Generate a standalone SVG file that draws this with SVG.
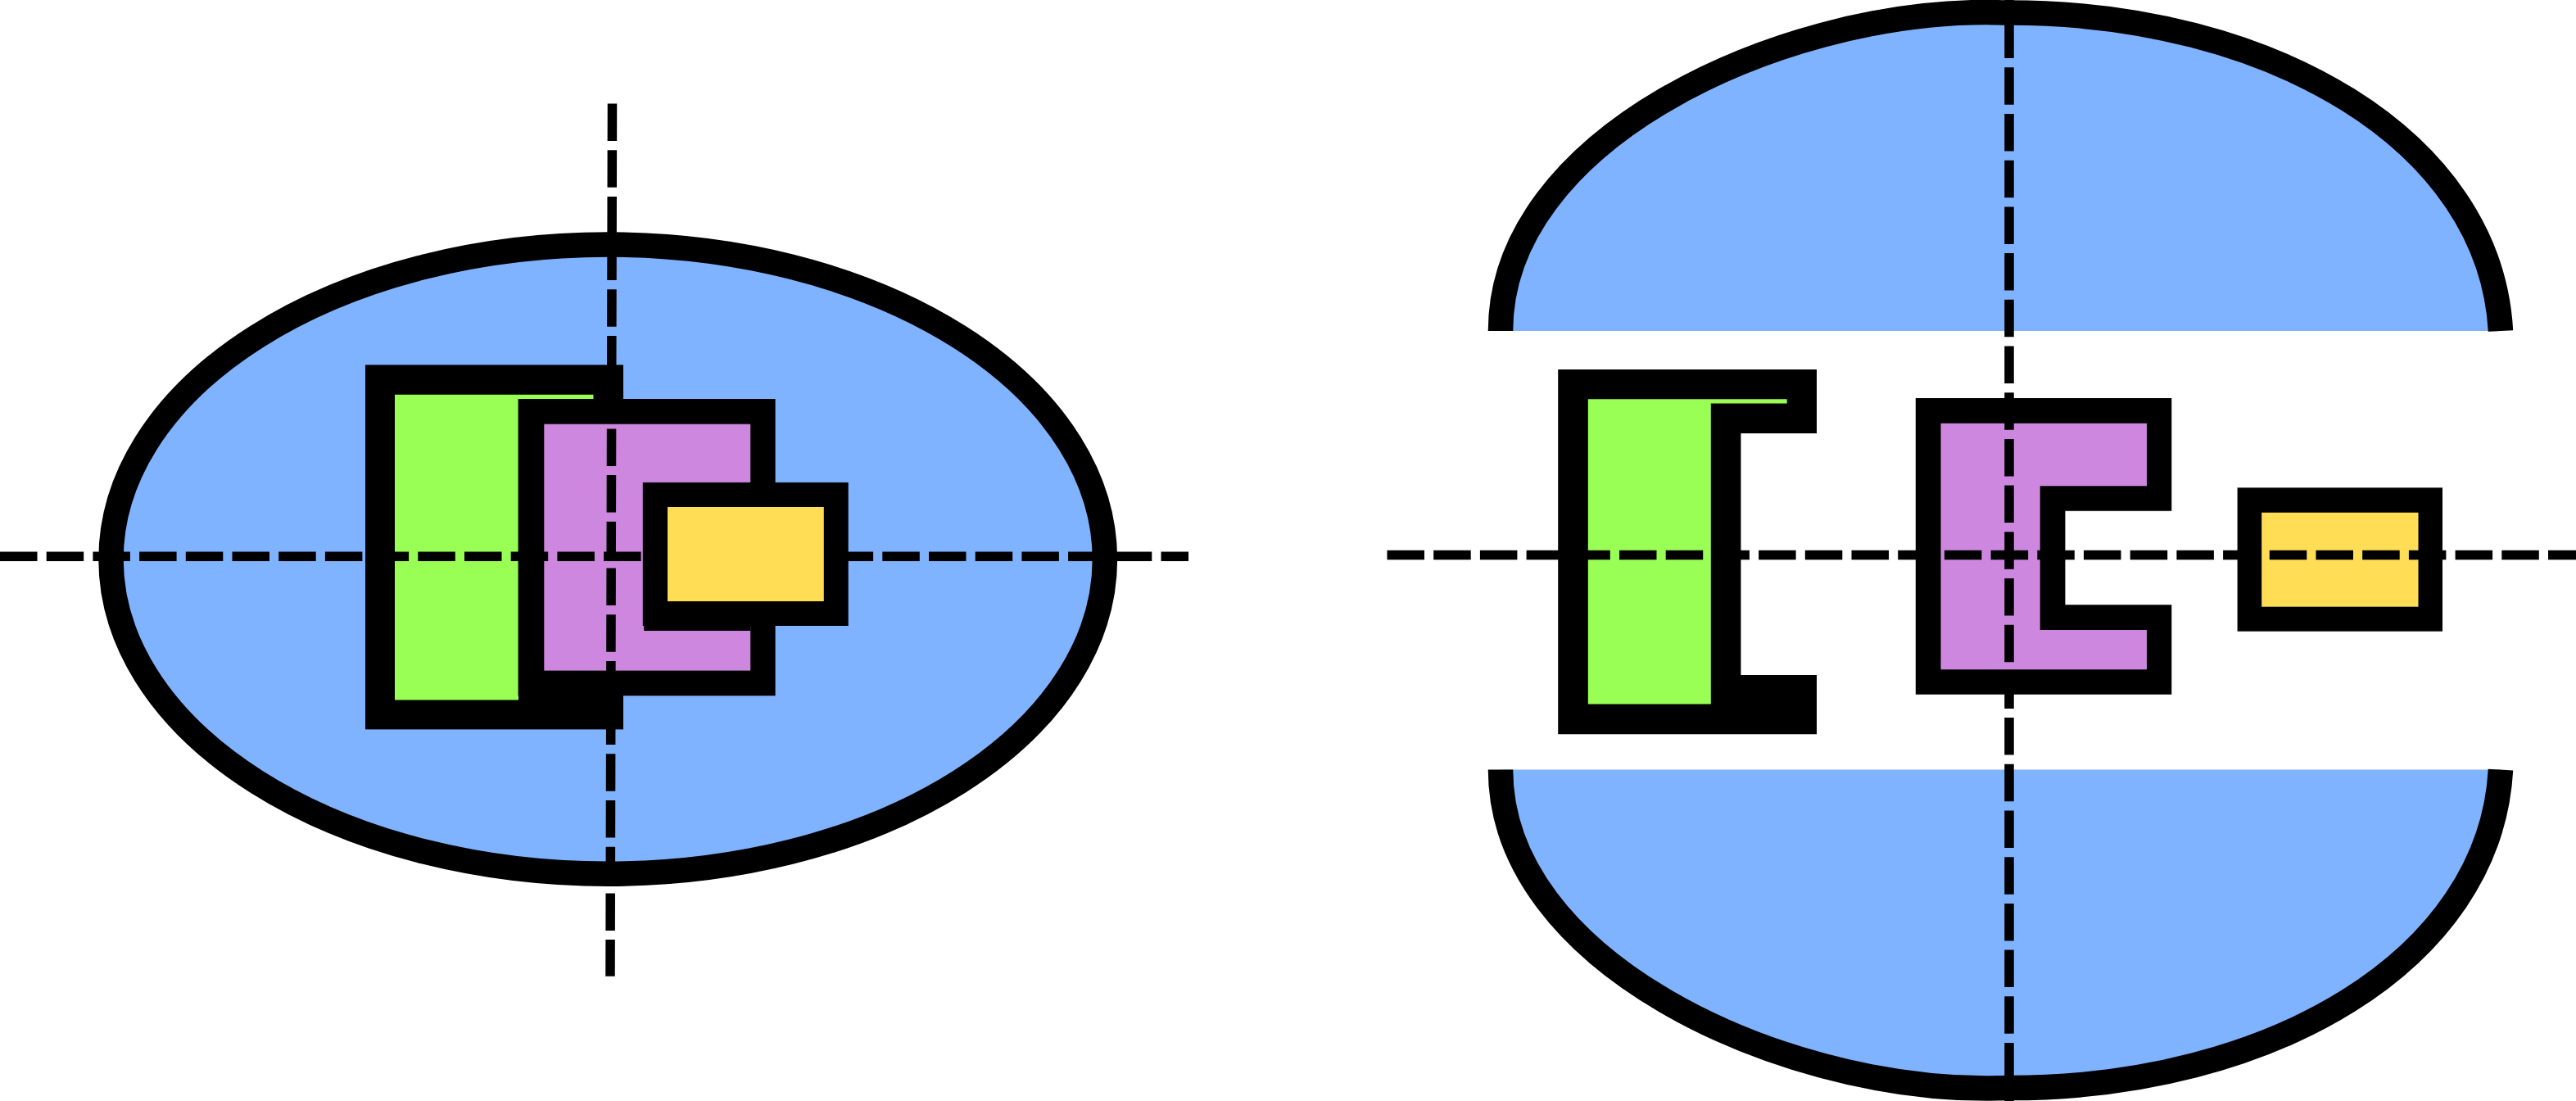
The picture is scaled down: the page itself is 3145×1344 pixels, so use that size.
<svg xmlns="http://www.w3.org/2000/svg" width="3145" height="1344" viewBox="0 0 3145 1344">
<style>
.k{fill:#000;stroke:none}
.b{fill:#80b3ff;stroke:none}
.g{fill:#99ff55;stroke:none}
.p{fill:#cd87de;stroke:none}
.y{fill:#ffdd55;stroke:none}
.arc{fill:none;stroke:#000;stroke-width:30.5}
.axis{fill:none;stroke:#000;stroke-width:11.5;stroke-dasharray:45.5 11.2}
</style>
<rect width="3145" height="1344" fill="#fff"/>
<g id="left-ellipse"><ellipse cx="742.2" cy="682.7" rx="606.7" ry="384.1" fill="#80b3ff" stroke="#000" stroke-width="30.5"/></g>
<g id="left-green">
<rect class="k" x="446" y="445.4" width="315" height="445"/>
<path class="g" d="M482 481.7H724.5V490H633V854.4H482Z"/>
</g>
<g id="left-purple">
<rect class="k" x="632.6" y="487" width="314" height="362.3"/>
<rect class="p" x="664.3" y="517.7" width="251.9" height="300.9"/>
</g>
<g id="right-top-cap">
<path class="b" d="M1832 404C1832 170 2170 15 2425 15L2452 15C2770 15 3040 170 3053 404Z"/>
<path class="arc" d="M1832 404C1832 170 2170 15 2425 15C2434 15 2443 15.5 2452 15.5C2770 15 3040 170 3053 404"/>
</g>
<g id="right-bottom-cap">
<path class="b" d="M1832 939.6C1832 1173.6 2170 1328.6 2425 1328.6L2452 1328.6C2770 1328.6 3040 1173.6 3053 939.6Z"/>
<path class="arc" d="M1832 939.6C1832 1173.6 2170 1328.6 2425 1328.6C2434 1328.6 2443 1328.1 2452 1328.1C2770 1328.6 3040 1173.6 3053 939.6"/>
</g>
<g id="right-green">
<path class="k" d="M1902.2 451H2218V529H2125.4V824H2218V896.3H1902.2Z"/>
<path class="g" d="M1938.8 487.2H2181.7V492.5H2088.8V859.6H1938.8Z"/>
</g>
<g id="right-purple">
<path class="k" d="M2338.8 486H2651.3V623.7H2521.4V738.3H2651.3V847.7H2338.8Z"/>
<path class="p" d="M2369.5 516.7H2621V593.3H2490.7V769H2621V817.3H2369.5Z"/>
</g>
<g id="right-yellow">
<rect class="k" x="2731.6" y="595.3" width="250.4" height="175.4"/>
<rect class="y" x="2761.2" y="625.7" width="191.3" height="115"/>
</g>
<g id="connectors">
<line class="axis" x1="0" y1="679.2" x2="1451" y2="679.2"/>
<line class="axis" x1="747.5" y1="126.5" x2="745" y2="1191.7"/>
<line class="axis" x1="1693.5" y1="677.5" x2="3145" y2="677.5"/>
<line class="axis" x1="2453" y1="-31.1" x2="2453" y2="1344"/>
</g>
<g id="left-yellow">
<rect class="k" x="786.2" y="760" width="130" height="10"/>
<rect class="k" x="784.8" y="588.9" width="250.9" height="175.1"/>
<rect class="y" x="815" y="619" width="190.8" height="115"/>
</g>
</svg>
